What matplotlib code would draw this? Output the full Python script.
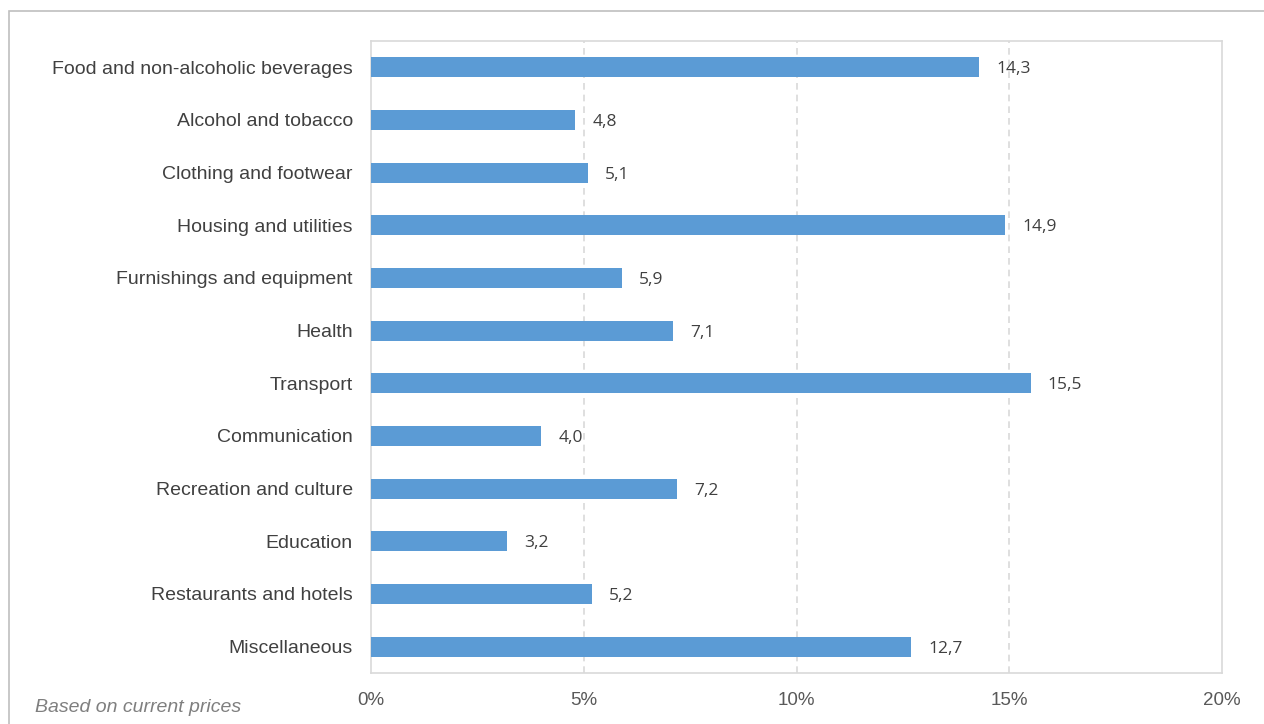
import numpy as np
import matplotlib.pyplot as plt
import matplotlib.patches as mpatches
from matplotlib.ticker import FuncFormatter

# household consumption shares by category (%)
categories = [
    "Food and non-alcoholic beverages",
    "Alcohol and tobacco",
    "Clothing and footwear",
    "Housing and utilities",
    "Furnishings and equipment",
    "Health",
    "Transport",
    "Communication",
    "Recreation and culture",
    "Education",
    "Restaurants and hotels",
    "Miscellaneous",
]
shares = [14.3, 4.8, 5.1, 14.9, 5.9, 7.1, 15.5, 4.0, 7.2, 3.2, 5.2, 12.7]
x_ticks = [0, 5, 10, 15, 20]

bar_color = "#5B9BD5"
text_color = "#595959"
line_color = "#D9D9D9"

plt.rcParams["font.family"] = ["Liberation Sans", "DejaVu Sans"]

W, H = 1264, 724
fig = plt.figure(figsize=(W / 100, H / 100), dpi=100)
ax = fig.add_axes([371 / W, 1 - 673 / H, (1222 - 371) / W, (673 - 41) / H])

y = np.arange(len(categories))
ax.barh(y, shares, height=0.38, color=bar_color, zorder=3)

for yi, v in zip(y, shares):
    ax.annotate(f"{v:.1f}".replace(".", ","), xy=(v, yi), xytext=(17, -2),
                textcoords="offset pixels", va="center", ha="left",
                fontsize=12.5, color="#404040", family=["Open Sans", "DejaVu Sans"])

ax.set_ylim(len(categories) - 0.5, -0.5)
ax.set_yticks(y)
ax.set_yticklabels(categories, fontsize=14, color="#404040")
ax.set_xlim(0, 20)
ax.set_xticks(x_ticks)
ax.xaxis.set_major_formatter(FuncFormatter(lambda v, p: f"{v:.0f}%"))
ax.tick_params(axis="x", labelsize=13.5, labelcolor=text_color, length=0, pad=14)
ax.tick_params(axis="y", length=0, pad=13)

# dashed vertical gridlines
for t in x_ticks[1:-1]:
    ax.axvline(t, color=line_color, lw=1.2, ls=(0, (4, 3)), zorder=1)

for s in ax.spines.values():
    s.set_color(line_color)
    s.set_linewidth(1.2)

# chart frame
frame = mpatches.Rectangle((9 / W, -0.1), 1.2, 1.1 - 11 / H, transform=fig.transFigure,
                           fill=False, edgecolor="#BFBFBF", lw=1.2)
fig.patches.append(frame)

fig.text(35 / W, 1 - 707 / H, "Based on current prices", fontsize=14, style="italic",
         color="#7F7F7F", va="center", ha="left")

fig.savefig("out.png", dpi=100)
